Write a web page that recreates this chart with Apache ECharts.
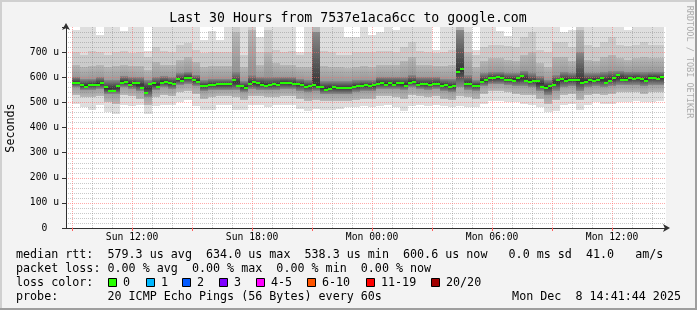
<!DOCTYPE html>
<html><head><meta charset="utf-8">
<script src="https://cdn.jsdelivr.net/npm/echarts@6/dist/echarts.min.js"></script>
<style>html,body{margin:0;padding:0;background:#f3f3f3}#c{width:697px;height:310px}</style>
</head><body><div id="c"></div>
<script>
// time axis in minutes since Sun 00:00
const START = 521.733;            // Sun 08:41:44
const END = START + 1800;         // Mon 14:41:44
const COL_START = 540;            // first 12-minute column (Sun 09:00)
const COL_MIN = 12;
const GROUP_MIN = 24;

// median rtt per 12-min column (microseconds)
const median = [579,579,571,563,571,571,571,579,563,547,547,567,579,583,571,579,579,559,538.3,575,
579,563,579,583,579,575,595,587,599,599,591,583,564,567,571,571,572,572,572,572,
591,567,564,559,572,582,578,570,567,571,574,570,578,578,578,574,574,570,560,567,
571,563,563,551,555,563,556,559,559,556,561,567,564,571,564,568,575,579,571,579,
571,579,579,567,579,583,571,575,575,571,575,575,567,571,560,567,619,634,575,575,
567,567,583,591,596,596,600,596,591,591,587,596,606,587,583,587,587,563,559,566,
571,589,594,587,590,590,590,579,583,591,587,591,599,579,587,599,607,591,591,599,
595,599,595,587,599,599,595,600.6];

// smoke envelope per 24-min group (microseconds)
const smokeMin = [495,480,470,490,460,455,490,485,490,455,485,490,490,500,510,485,470,470,
490,490,470,470,490,490,480,490,490,490,475,465,475,470,470,475,480,480,485,
480,485,490,480,465,485,490,485,490,485,480,485,480,480,495,505,505,500,500,
495,490,480,460,465,490,495,470,490,500,495,495,500,500,505,500,500,505];
const smokeLo1 = [530,520,520,525,500,495,530,525,515,490,520,530,525,540,545,535,515,520,
525,525,520,510,525,525,520,520,525,525,515,505,510,505,505,505,505,510,515,
515,525,525,520,515,530,525,520,525,515,510,525,520,515,535,545,545,540,535,
530,530,515,495,510,530,535,510,530,535,530,535,540,540,540,535,540,540];
const smokeCoreLo = [560,550,550,555,535,535,560,555,545,520,550,560,555,570,575,565,545,550,
550,550,550,540,555,550,550,550,555,555,545,540,545,535,535,535,535,540,545,
545,555,555,555,550,560,555,550,555,545,540,560,550,545,565,575,575,570,565,
565,560,545,530,545,560,565,545,560,565,560,565,570,570,570,565,570,570];
const smokeCoreHi = [600,595,595,600,590,590,605,600,600,590,600,605,600,615,620,610,590,595,
595,595,620,585,610,600,600,600,600,600,595,590,780,585,585,585,585,590,590,
590,600,600,600,600,610,600,600,600,595,595,790,610,590,615,620,620,615,615,
625,615,605,590,610,620,615,700,615,615,620,625,625,620,620,620,620,620];
const smokeHi1 = [650,640,645,650,640,645,650,645,645,630,660,650,650,670,680,660,640,645,
645,645,780,640,790,650,700,655,650,650,640,640,800,645,640,640,635,640,645,
640,650,650,650,665,680,650,650,645,645,650,800,700,640,665,675,675,670,665,
690,700,655,640,680,680,665,790,670,665,680,690,675,670,675,680,675,675];
const smokeHi2 = [700,690,705,700,690,700,705,695,700,680,720,705,700,730,735,710,695,700,
700,700,800,690,800,700,790,710,700,705,690,700,800,705,700,690,690,700,700,
700,705,705,700,720,740,705,700,695,700,710,800,780,690,720,730,730,725,720,
760,780,710,700,740,740,720,800,730,720,740,760,730,725,730,740,730,730];
const smokeMax = [790,800,800,770,800,800,785,800,800,706,800,800,800,800,800,800,750,785,
750,800,800,800,800,760,800,800,800,800,700,800,800,800,800,800,760,760,800,
770,780,800,790,800,800,800,800,710,800,800,800,800,710,800,800,785,765,800,
800,800,800,800,800,780,790,800,800,800,800,800,800,790,800,800,800,800];

// axes
const xLabelValues = [720,1080,1440,1800,2160];
const xLabelTexts = ['Sun 12:00','Sun 18:00','Mon 00:00','Mon 06:00','Mon 12:00'];
const majorX = [540,720,900,1080,1260,1440,1620,1800,1980,2160];
const minorX = [600,660,780,840,960,1020,1140,1200,1320,1380,1500,1560,1680,1740,1860,1920,2040,2100,2220,2280];
const yTickValues = [0,100,200,300,400,500,600,700,800];
const yTickLabels = ['0  ','100 u','200 u','300 u','400 u','500 u','600 u','700 u',''];
const majorY = [100,200,300,400,500,600,700];
const minorY = [20,40,60,80,120,140,160,180,220,240,260,280,320,340,360,380,420,440,460,480,
520,540,560,580,620,640,660,680,720,740,760,780];

// legend
const lossLabels = ['0','1','2','3','4-5','6-10','11-19','20/20'];
const lossColors = ['#26ff00','#00b8ff','#0059ff','#7e00ff','#ff00ff','#ff5500','#ff0000','#a10000'];
const lossBoxX = [108,146,182,219,256,307,366,431];
const legendLine1 = 'median rtt:  579.3 us avg  634.0 us max  538.3 us min  600.6 us now   0.0 ms sd  41.0   am/s';
const legendLine2 = 'packet loss: 0.00 % avg  0.00 % max  0.00 % min  0.00 % now';
const legendLine4 = 'probe:       20 ICMP Echo Pings (56 Bytes) every 60s';
const dateText = 'Mon Dec  8 14:41:44 2025';
const titleText = 'Last 30 Hours from 7537e1aca6cc to google.com';

const MONO = '"DejaVu Sans Mono", monospace';

// smoke band: outer colour at the edges, inner colour at the median of the group
function bandSeries(lo, hi, outer, inner) {
  const data = lo.map((v, i) => [COL_START + GROUP_MIN * i, COL_START + GROUP_MIN * (i + 1), v, hi[i],
    (median[2 * i] + median[2 * i + 1]) / 2]);
  return {
    type: 'custom', silent: true, animation: false, z: 2, data,
    encode: { x: [0, 1], y: [2, 3] },
    renderItem: (params, api) => {
      const a = api.coord([api.value(0), api.value(3)]);
      const b = api.coord([api.value(1), api.value(2)]);
      const m = api.coord([api.value(0), api.value(4)]);
      const x0 = Math.round(a[0]), x1 = Math.round(b[0]);
      const y0 = Math.round(a[1]), y1 = Math.round(b[1]);
      let fill = outer;
      if (inner && y1 > y0) {
        const t = Math.min(1, Math.max(0, (m[1] - y0) / (y1 - y0)));
        fill = new echarts.graphic.LinearGradient(0, 0, 0, 1, [
          { offset: 0, color: outer }, { offset: t, color: inner }, { offset: 1, color: outer }]);
      }
      return { type: 'rect', shape: { x: x0, y: y0, width: x1 - x0, height: y1 - y0 }, style: { fill } };
    }
  };
}

const medianSeries = {
  type: 'custom', silent: true, animation: false, z: 5,
  data: median.map((v, i) => [COL_START + COL_MIN * i, COL_START + COL_MIN * (i + 1), v]),
  encode: { x: [0, 1], y: 2 },
  renderItem: (params, api) => {
    const a = api.coord([api.value(0), api.value(2)]);
    const b = api.coord([api.value(1), api.value(2)]);
    const x0 = Math.round(a[0]), x1 = Math.round(b[0]);
    const y = Math.round(a[1]);
    return { type: 'rect', shape: { x: x0, y: y - 1, width: x1 - x0, height: 2 }, style: { fill: lossColors[0] } };
  }
};

// dotted grid lines, drawn over the smoke like rrdtool does
function gridSeries(xs, ys, color) {
  const data = [...xs.map(v => [v, 0, 0]), ...ys.map(v => [START, v, 1])];
  return {
    type: 'custom', silent: true, animation: false, z: 4, data,
    encode: { x: 0, y: 1 },
    renderItem: (params, api) => {
      if (api.value(2) === 0) {
        const a = api.coord([api.value(0), 0]), b = api.coord([api.value(0), 800]);
        const x = Math.round(a[0]) + 0.5;
        return { type: 'line', shape: { x1: x, y1: Math.round(a[1]), x2: x, y2: Math.round(b[1]) },
          style: { stroke: color, lineWidth: 1, lineDash: [1, 1] } };
      }
      const a = api.coord([START, api.value(1)]), b = api.coord([END, api.value(1)]);
      const y = Math.round(a[1]) + 0.5;
      return { type: 'line', shape: { x1: Math.round(a[0]), y1: y, x2: Math.round(b[0]), y2: y },
        style: { stroke: color, lineWidth: 1, lineDash: [1, 1] } };
    }
  };
}

const txt = (text, x, y, size, extra) => Object.assign({
  type: 'text', x, y, silent: true,
  style: Object.assign({ text, font: size + 'px ' + MONO, fill: '#000', align: 'left', verticalAlign: 'middle',
    textAlign: 'left', textVerticalAlign: 'middle' }, (extra && extra.style) || {})
}, extra ? { rotation: extra.rotation || 0 } : {});

const graphics = [
  { type: 'rect', shape: { x: 0, y: 0, width: 697, height: 2 }, style: { fill: '#d0d0d0' }, silent: true },
  { type: 'rect', shape: { x: 0, y: 0, width: 2, height: 310 }, style: { fill: '#d0d0d0' }, silent: true },
  { type: 'rect', shape: { x: 0, y: 308, width: 697, height: 2 }, style: { fill: '#9e9e9e' }, silent: true },
  { type: 'rect', shape: { x: 695, y: 0, width: 2, height: 310 }, style: { fill: '#9e9e9e' }, silent: true },
  txt(titleText, 348, 19, 13.2, { style: { align: 'center', textAlign: 'center' } }),
  txt('Seconds', 11, 128, 11.7, { rotation: Math.PI / 2, style: { align: 'center', textAlign: 'center' } }),
  txt('RRDTOOL / TOBI OETIKER', 689, 62, 8.5, { rotation: -Math.PI / 2, style: { align: 'center', textAlign: 'center', fill: '#acacac' } }),
  txt(legendLine1, 16, 254.5, 11.7),
  txt(legendLine2, 16, 268.5, 11.7),
  txt('loss color:', 16, 282.5, 11.7),
  txt(legendLine4, 16, 296.5, 11.7),
  txt(dateText, 681, 296.5, 11.7, { style: { align: 'right', textAlign: 'right' } })
];
lossLabels.forEach((lab, i) => {
  graphics.push({ type: 'rect', silent: true, shape: { x: lossBoxX[i] + 0.5, y: 278.5, width: 8, height: 8 },
    style: { fill: lossColors[i], stroke: '#000', lineWidth: 1 } });
  graphics.push(txt(lab, lossBoxX[i] + 15, 282.5, 11.7));
});

const chart = echarts.init(document.getElementById('c'), null, { renderer: 'canvas' });
chart.setOption({
  animation: false,
  backgroundColor: '#f3f3f3',
  grid: { left: 66, top: 27, width: 600, height: 201, show: true, backgroundColor: '#ffffff', borderWidth: 0 },
  xAxis: {
    type: 'value', min: START, max: END, z: 6,
    axisLine: { show: true, onZero: false, symbol: ['none', 'arrow'], symbolSize: [6, 7], symbolOffset: [0, 4],
      lineStyle: { color: '#303030', width: 1 } },
    axisTick: { show: true, customValues: majorX, length: 3, lineStyle: { color: '#ff6060' } },
    axisLabel: { customValues: xLabelValues, margin: 4, color: '#000', fontFamily: MONO, fontSize: 9.7,
      formatter: v => { const i = xLabelValues.indexOf(Math.round(v)); return i >= 0 ? xLabelTexts[i] : ''; } },
    splitLine: { show: false }
  },
  yAxis: {
    type: 'value', min: 0, max: 800, interval: 100, z: 6,
    axisLine: { show: true, symbol: ['none', 'arrow'], symbolSize: [6, 7], symbolOffset: [0, 4],
      lineStyle: { color: '#303030', width: 1 } },
    axisTick: { show: true, length: 4, lineStyle: { color: '#303030' } },
    axisLabel: { margin: 7, color: '#000', fontFamily: MONO, fontSize: 9.7,
      formatter: v => { const i = yTickValues.indexOf(Math.round(v)); return i >= 0 ? yTickLabels[i] : ''; } },
    splitLine: { show: false }
  },
  series: [
    bandSeries(smokeMin, smokeMax, '#dedede', null),
    bandSeries(smokeLo1, smokeHi2, '#cbcbcb', null),
    bandSeries(smokeLo1, smokeHi1, '#b8b8b8', '#8a8a8a'),
    bandSeries(smokeCoreLo, smokeCoreHi, '#8a8a8a', '#353535'),
    gridSeries(minorX, minorY, 'rgba(120,120,120,0.4)'),
    gridSeries(majorX, majorY, 'rgba(255,100,100,0.55)'),
    medianSeries
  ],
  graphic: { elements: graphics }
});
</script></body></html>
